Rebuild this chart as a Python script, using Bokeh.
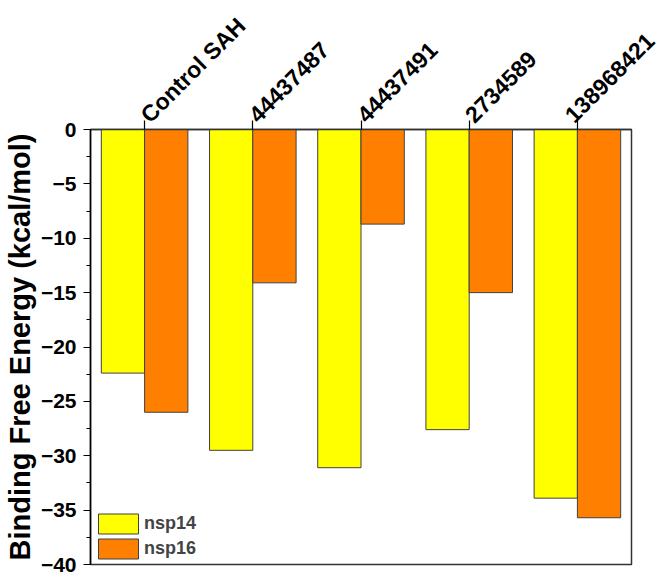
import math
from bokeh.plotting import figure
from bokeh.models import (FactorRange, Range1d, Legend, LegendItem,
                          SingleIntervalTicker, ColumnDataSource)
from bokeh.transform import dodge
from bokeh.embed import file_html
from bokeh.resources import INLINE

compounds = ["Control SAH", "44437487", "44437491", "2734589", "138968421"]
nsp14 = [-22.4, -29.5, -31.1, -27.6, -33.9]
nsp16 = [-26.0, -14.1, -8.7, -15.0, -35.7]
y_tick_values = [0, -5, -10, -15, -20, -25, -30, -35, -40]
y_tick_labels = ["0", "\u22125", "\u221210", "\u221215", "\u221220",
                 "\u221225", "\u221230", "\u221235", "\u221240"]

source = ColumnDataSource(data=dict(compound=compounds, nsp14=nsp14, nsp16=nsp16,
                                    zero=[0] * len(compounds)))

FONT = "Liberation Sans"

p = figure(x_range=FactorRange(*compounds, range_padding=0, factor_padding=0),
           y_range=Range1d(-40, 0),
           frame_width=541, frame_height=435,
           min_border_left=83, min_border_right=28, min_border_top=100,
           min_border_bottom=10,
           x_axis_location="above",
           output_backend="svg", toolbar_location=None)

r1 = p.vbar(x=dodge("compound", -0.2, range=p.x_range), top="zero", bottom="nsp14",
            width=0.4, source=source, fill_color="#FFFF00", line_color="#404040",
            line_width=1)
r2 = p.vbar(x=dodge("compound", 0.2, range=p.x_range), top="zero", bottom="nsp16",
            width=0.4, source=source, fill_color="#FF8000", line_color="#404040",
            line_width=1)

p.xgrid.visible = False
p.ygrid.visible = False
p.outline_line_color = "#333333"
p.outline_line_width = 1.5
p.background_fill_color = "white"

# top categorical axis
xa = p.xaxis[0]
xa.major_label_orientation = math.pi / 4
xa.major_tick_out = 9
xa.major_tick_in = 0
xa.major_tick_line_color = "black"
xa.major_tick_line_width = 1.2
xa.axis_line_color = "#333333"
xa.axis_line_width = 1.5
xa.major_label_text_font = FONT
xa.major_label_text_font_style = "bold"
xa.major_label_text_font_size = "23px"
xa.major_label_text_color = "black"
xa.major_label_standoff = 2

# left axis
ya = p.yaxis[0]
ya.ticker = SingleIntervalTicker(interval=5, num_minor_ticks=2)
ya.major_label_overrides = dict(zip(y_tick_values, y_tick_labels))
ya.major_tick_out = 7
ya.major_tick_in = 0
ya.minor_tick_out = 4
ya.minor_tick_in = 0
ya.major_tick_line_width = 1.2
ya.minor_tick_line_width = 1.2
ya.axis_line_width = 1.5
ya.axis_line_color = "black"
ya.major_label_text_font = FONT
ya.major_label_text_font_style = "bold"
ya.major_label_text_font_size = "21px"
ya.major_label_text_color = "black"
ya.major_label_standoff = 7
ya.axis_label = "Binding Free Energy (kcal/mol)"
ya.axis_label_text_font = FONT
ya.axis_label_text_font_style = "bold"
ya.axis_label_text_font_size = "29px"
ya.axis_label_text_color = "black"
ya.axis_label_standoff = 2

legend = Legend(items=[LegendItem(label="nsp14", renderers=[r1]),
                       LegendItem(label="nsp16", renderers=[r2])],
                location="bottom_left", glyph_width=50, glyph_height=25,
                spacing=-2, padding=0, margin=3, label_standoff=1,
                border_line_alpha=0, background_fill_alpha=0,
                label_text_font=FONT, label_text_font_style="bold",
                label_text_font_size="18px", label_height=25)
p.add_layout(legend)

open("out.html", "w").write(file_html(p, INLINE))
